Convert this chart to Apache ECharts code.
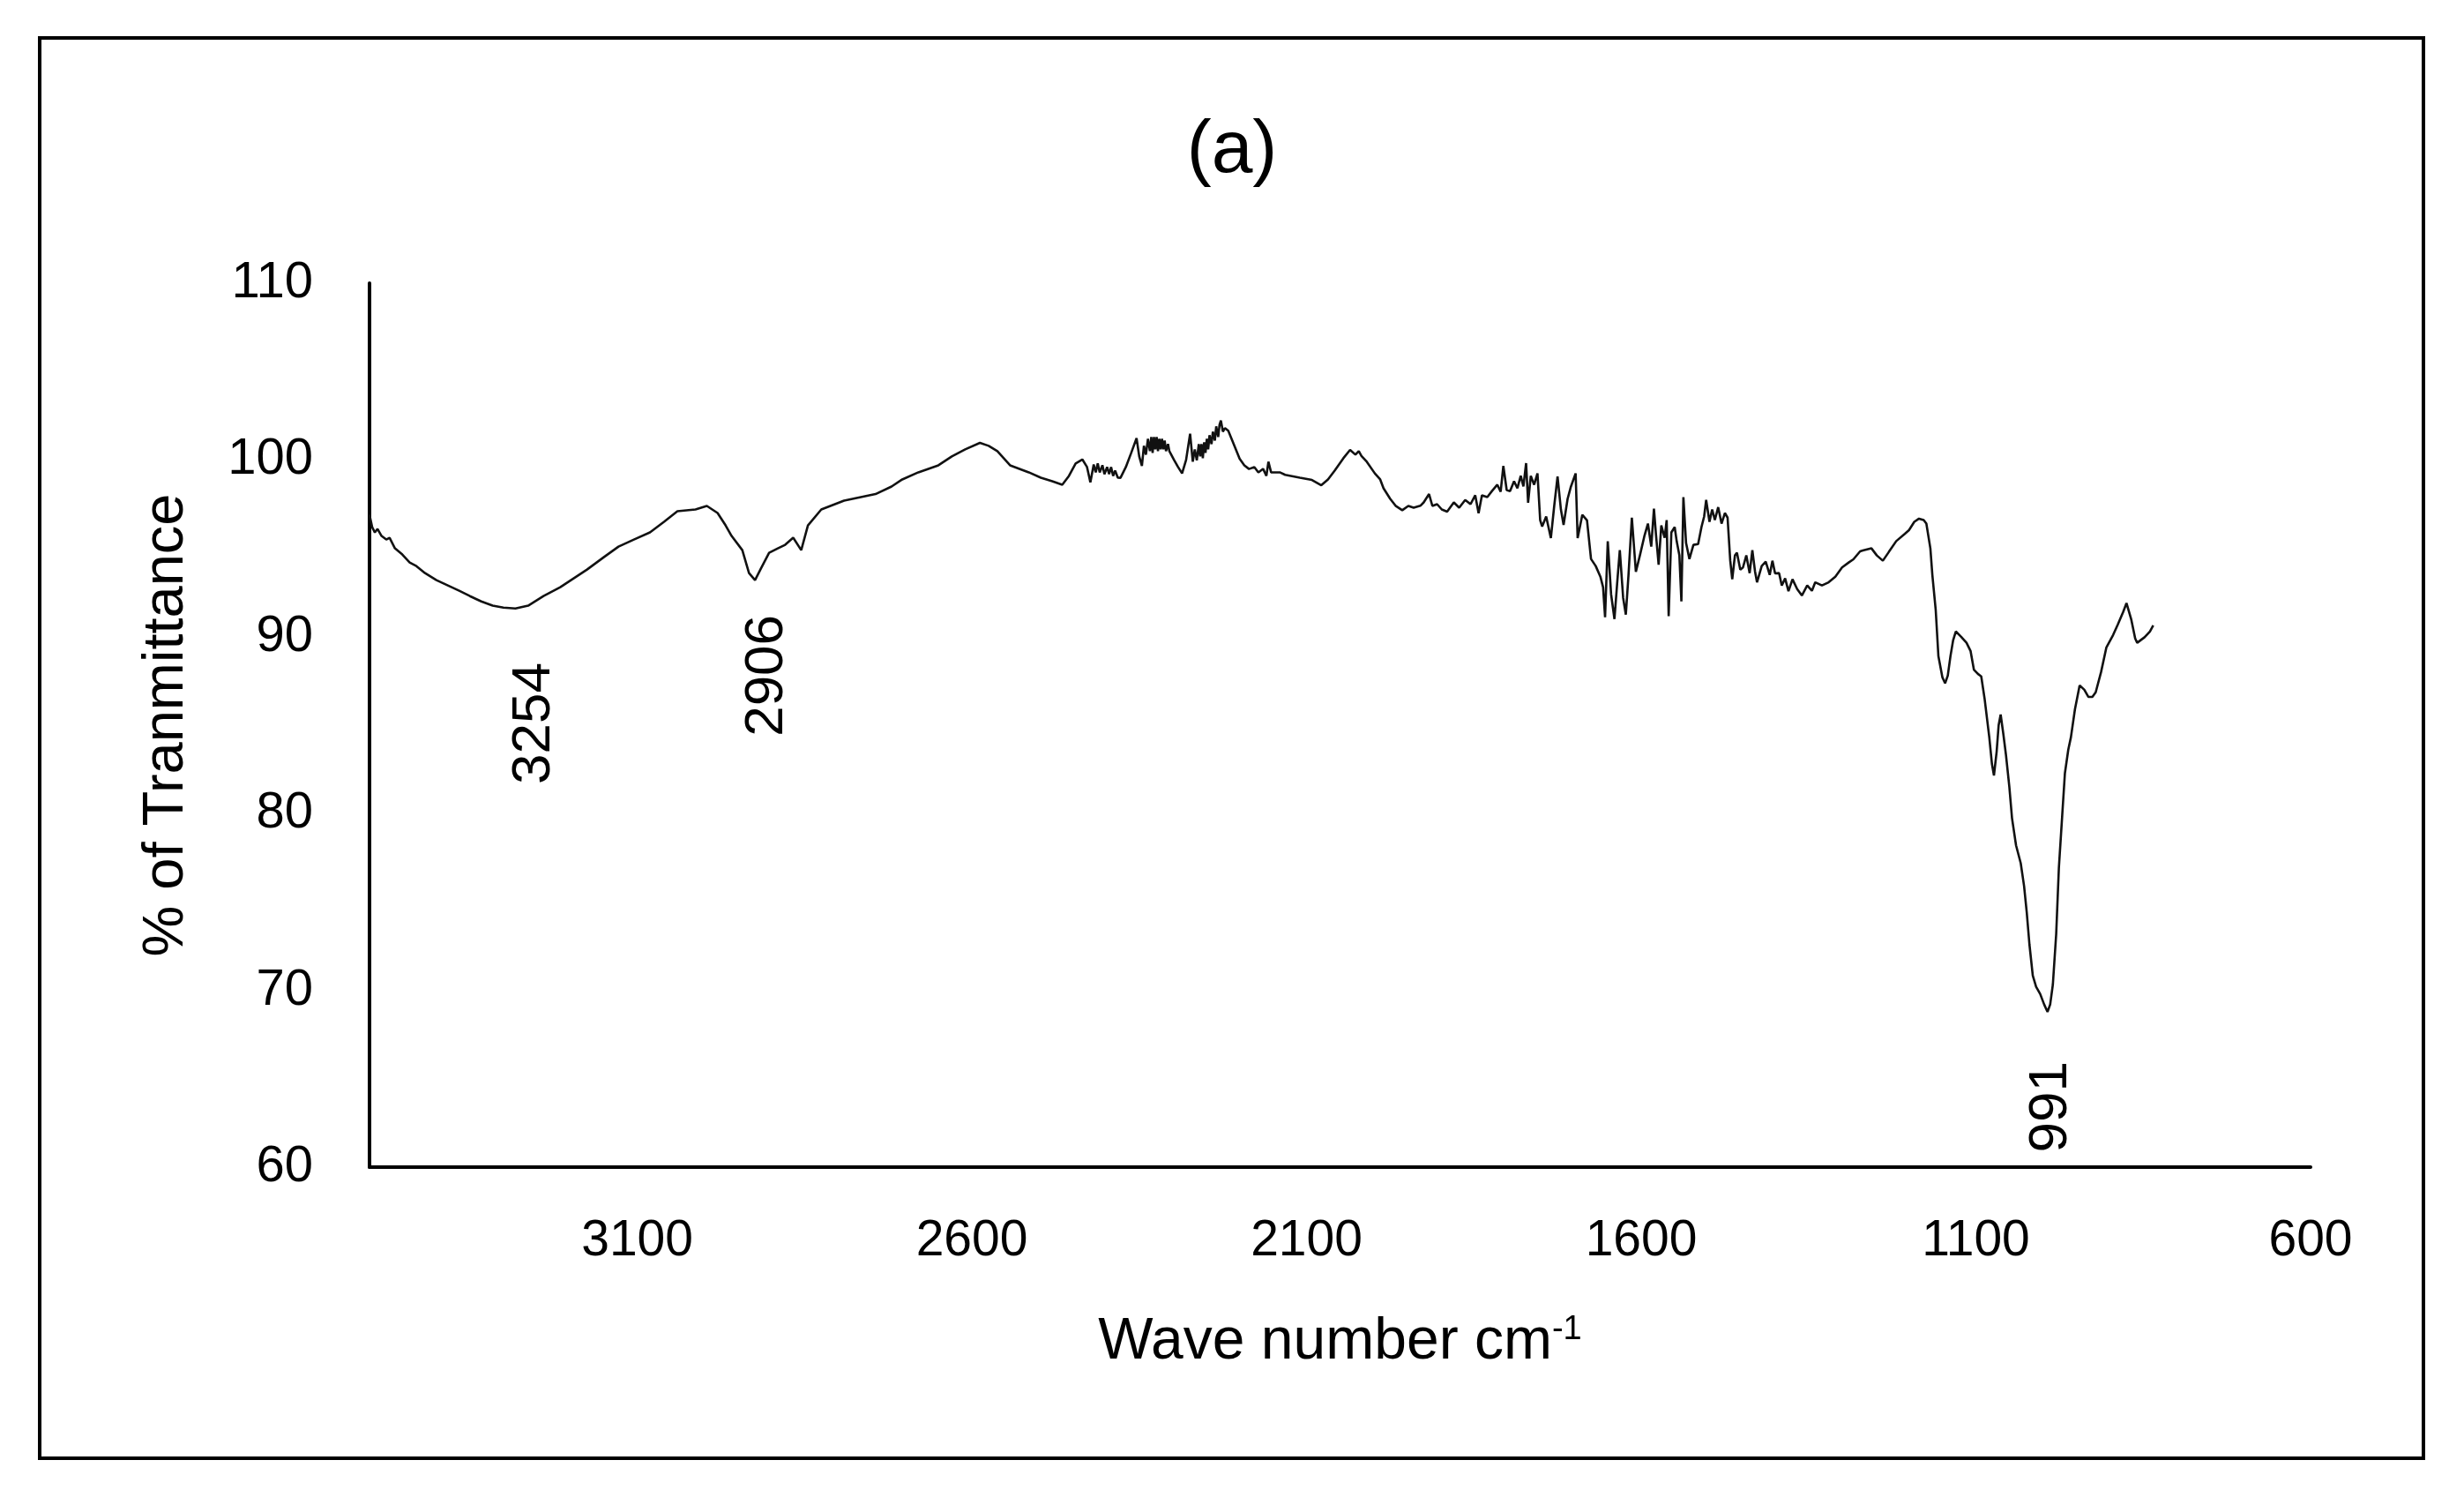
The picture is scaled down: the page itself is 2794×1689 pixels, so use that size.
<!DOCTYPE html>
<html>
<head>
<meta charset="utf-8">
<script src="https://cdn.jsdelivr.net/npm/echarts@6/dist/echarts.min.js"></script>
<style>
html,body{margin:0;padding:0;background:#fff;}
#chart{width:2794px;height:1689px;}
</style>
</head>
<body>
<div id="chart"></div>
<script>
// ---- Data ----
const wavenumber = [3500,3496,3492,3488,3482,3475,3470,3462,3451,3440,3430,3417,3400,3383,3366,3350,3333,3316,3300,3282,3263,3240,3215,3195,3175,3150,3128,3105,3081,3060,3040,3013,2996,2980,2968,2959,2943,2933,2924,2916,2903,2890,2879,2867,2855,2845,2825,2791,2744,2720,2704,2680,2650,2630,2610,2588,2575,2562,2543,2515,2497,2480,2465,2455,2445,2435,2428,2423,2418,2415,2412,2409,2405,2402,2398,2395,2392,2389,2386,2382,2378,2370,2362,2354,2350,2346,2343,2340,2337,2334,2332,2330,2328,2326,2324,2322,2320,2318,2316,2314,2312,2310,2307,2305,2298,2292,2286,2280,2274,2270,2267,2264,2261,2259,2257,2255,2253,2251,2249,2247,2245,2242,2240,2237,2235,2232,2230,2228,2225,2222,2217,2210,2200,2193,2186,2178,2172,2165,2160,2157,2153,2140,2132,2110,2092,2078,2068,2058,2045,2035,2027,2022,2018,2010,1998,1990,1985,1975,1967,1957,1948,1940,1930,1925,1917,1912,1905,1898,1890,1880,1872,1863,1855,1848,1843,1838,1830,1823,1815,1810,1806,1801,1796,1790,1785,1780,1776,1772,1769,1765,1760,1755,1751,1748,1742,1735,1730,1725,1720,1716,1710,1705,1698,1695,1688,1681,1675,1668,1661,1657,1654,1650,1645,1640,1636,1632,1627,1623,1619,1614,1608,1602,1595,1590,1585,1581,1578,1574,1570,1565,1562,1559,1555,1550,1547,1543,1540,1537,1533,1528,1522,1515,1510,1506,1503,1498,1494,1490,1485,1480,1475,1471,1467,1464,1460,1457,1452,1448,1443,1438,1434,1430,1427,1420,1414,1408,1404,1400,1394,1390,1385,1380,1374,1367,1360,1352,1345,1340,1330,1320,1310,1300,1290,1283,1273,1269,1256,1248,1239,1230,1219,1206,1200,1192,1185,1178,1174,1168,1165,1160,1156,1150,1146,1142,1138,1134,1130,1122,1114,1108,1103,1097,1092,1087,1080,1076,1073,1069,1066,1063,1059,1055,1050,1046,1040,1033,1028,1024,1020,1015,1010,1004,998,993,989,985,980,976,971,967,962,958,952,945,938,932,926,921,913,905,895,888,880,875,868,862,859,848,840,835];
const transmittance = [96.9,96.2,95.9,96.1,95.7,95.5,95.6,95.0,94.65,94.2,94.0,93.6,93.2,92.9,92.6,92.3,92.0,91.76,91.65,91.6,91.76,92.3,92.8,93.3,93.8,94.5,95.1,95.5,95.9,96.5,97.1,97.2,97.4,97.0,96.3,95.7,94.9,93.6,93.2,93.8,94.75,95.0,95.2,95.6,94.9,96.3,97.2,97.7,98.07,98.5,98.9,99.3,99.7,100.2,100.6,100.97,100.8,100.5,99.7,99.3,99.0,98.8,98.6,99.1,99.8,100.03,99.6,98.74,99.74,99.3,99.8,99.3,99.7,99.2,99.6,99.2,99.6,99.1,99.4,99.0,98.99,99.6,100.4,101.23,100.2,99.66,100.8,100.3,101.2,100.5,101.3,100.4,101.3,100.6,101.3,100.5,101.2,100.6,101.2,100.6,101.1,100.5,100.9,100.5,100.0,99.6,99.24,100.0,101.48,99.9,100.6,99.98,100.9,100.2,100.9,100.1,101.0,100.4,101.2,100.6,101.4,100.9,101.6,101.1,101.9,101.3,102.0,102.23,101.6,101.8,101.65,101.0,100.07,99.7,99.49,99.6,99.3,99.5,99.1,99.9,99.3,99.3,99.16,99.0,98.87,98.57,98.9,99.4,100.1,100.57,100.3,100.5,100.23,99.9,99.24,98.9,98.4,97.8,97.41,97.16,97.4,97.3,97.41,97.6,98.07,97.4,97.5,97.2,97.08,97.6,97.3,97.74,97.5,98.0,96.99,98.0,97.9,98.24,98.6,98.2,99.66,98.3,98.24,98.8,98.4,99.1,98.5,99.82,97.58,99.1,98.6,99.24,96.6,96.24,96.8,95.58,97.4,99.07,97.2,96.33,97.8,98.5,99.24,95.58,96.9,96.58,94.4,94.0,93.4,92.8,91.1,95.4,92.4,91.0,93.0,94.9,92.2,91.25,93.5,96.74,93.67,94.6,95.74,96.4,95.1,97.24,95.8,94.08,96.3,95.6,96.6,91.17,95.9,96.2,95.4,94.6,92.0,97.9,95.3,94.4,95.2,95.24,96.2,96.8,97.74,96.5,97.2,96.6,97.33,96.4,97.0,96.74,94.3,93.25,94.6,94.75,93.8,93.92,94.6,93.6,94.9,93.7,93.08,94.0,94.25,93.5,94.3,93.58,93.6,92.9,93.3,92.58,93.25,92.7,92.33,92.9,92.6,93.08,92.9,93.08,93.4,93.92,94.2,94.38,94.83,94.88,95.0,94.6,94.3,94.8,95.41,95.83,96.03,96.5,96.68,96.6,96.4,95.0,93.48,91.5,88.9,87.7,87.37,87.8,88.9,89.8,90.3,90.0,89.66,89.2,88.14,87.9,87.76,86.5,84.32,82.8,82.15,83.5,85.0,85.6,84.5,83.3,81.5,79.73,78.2,77.19,75.9,74.4,72.6,70.83,70.2,69.8,69.2,68.78,69.2,70.33,73.2,76.94,79.9,82.28,83.6,84.32,85.9,87.25,87.0,86.6,86.6,86.86,88.0,89.4,90.1,90.69,91.4,91.9,91.0,89.9,89.66,89.97,90.3,90.64];

const peakLabels = ['3254', '2906', '991'];
const peakLabelX = [3254, 2906, 988];
const peakLabelY = [85.1, 87.8, 63.4];

const xTickLabels = [3100, 2600, 2100, 1600, 1100, 600];
const yTickLabels = [60, 70, 80, 90, 100, 110];

const titleText = '(a)';
const xAxisTitle = 'Wave number cm';
const xAxisTitleSup = '-1';
const yAxisTitle = '% of Tranmittance';

// ---- Chart ----
const spectrum = wavenumber.map((w, i) => [w, transmittance[i]]);
const peaks = peakLabels.map((t, i) => ({ name: t, value: [peakLabelX[i], peakLabelY[i]] }));

const chart = echarts.init(document.getElementById('chart'), null, { renderer: 'canvas' });
chart.setOption({
  animation: false,
  backgroundColor: '#ffffff',
  title: {
    text: titleText,
    left: 'center',
    top: 125,
    textStyle: { fontFamily: 'Liberation Sans, Arial, sans-serif', fontSize: 84, fontWeight: 'normal', color: '#000' }
  },
  graphic: [{
    type: 'rect',
    shape: { x: 45, y: 43, width: 2703, height: 1610 },
    style: { fill: 'none', stroke: '#000', lineWidth: 4 },
    silent: true
  }],
  grid: { left: 419, right: 174, top: 321, bottom: 366, containLabel: false },
  xAxis: {
    type: 'value',
    inverse: true,
    min: 600,
    max: 3500,
    interval: 500,
    axisLine: { show: true, onZero: false, lineStyle: { color: '#000', width: 4 } },
    axisTick: { show: false },
    splitLine: { show: false },
    axisLabel: {
      margin: 56,
      fontFamily: 'Liberation Sans, Arial, sans-serif',
      fontSize: 57,
      color: '#000',
      formatter: v => (xTickLabels.indexOf(v) >= 0 ? String(v) : '')
    },
    name: '{base|' + xAxisTitle + '}{sup|' + xAxisTitleSup + '}',
    nameLocation: 'middle',
    nameGap: 166,
    nameTextStyle: {
      color: '#000',
      rich: {
        base: { fontFamily: 'Liberation Sans, Arial, sans-serif', fontSize: 66, color: '#000', verticalAlign: 'bottom' },
        sup: { fontFamily: 'Liberation Sans, Arial, sans-serif', fontSize: 38, color: '#000', verticalAlign: 'top' }
      }
    }
  },
  yAxis: {
    type: 'value',
    min: 60,
    max: 110,
    interval: 10,
    axisLine: { show: true, lineStyle: { color: '#000', width: 4 } },
    axisTick: { show: false },
    splitLine: { show: false },
    axisLabel: {
      margin: 64,
      fontFamily: 'Liberation Sans, Arial, sans-serif',
      fontSize: 58,
      color: '#000',
      formatter: v => (yTickLabels.indexOf(v) >= 0 ? String(v) : '')
    },
    name: yAxisTitle,
    nameLocation: 'middle',
    nameGap: 197,
    nameTextStyle: { fontFamily: 'Liberation Sans, Arial, sans-serif', fontSize: 65, color: '#000' }
  },
  series: [
    {
      type: 'line',
      data: spectrum,
      showSymbol: false,
      symbol: 'none',
      lineStyle: { color: '#111111', width: 2.6 },
      silent: true
    },
    {
      type: 'scatter',
      data: peaks,
      symbolSize: 1,
      itemStyle: { color: '#ffffff', opacity: 1 },
      silent: true,
      label: {
        show: true,
        position: 'inside',
        rotate: 90,
        formatter: '{b}',
        fontFamily: 'Liberation Sans, Arial, sans-serif',
        fontSize: 62,
        color: '#000000',
        opacity: 1,
        textBorderWidth: 0
      }
    }
  ]
});
</script>
</body>
</html>
